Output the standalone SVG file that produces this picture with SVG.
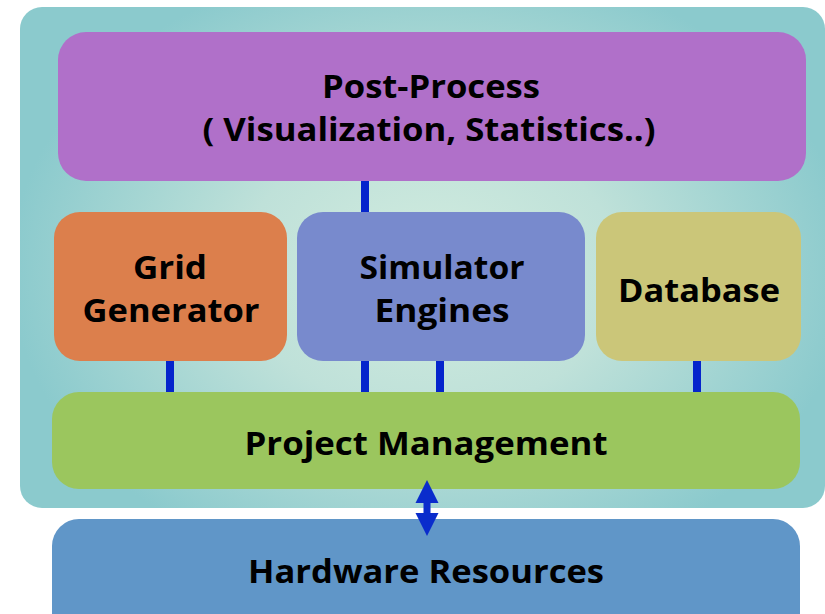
<svg xmlns="http://www.w3.org/2000/svg" width="825" height="614" viewBox="0 0 825 614">
<defs>
<radialGradient id="bg" cx="430" cy="270" r="420" gradientUnits="userSpaceOnUse" gradientTransform="translate(430 270) scale(1 0.75) translate(-430 -270)">
<stop offset="0" stop-color="#d2ecdf"/>
<stop offset="0.45" stop-color="#bfe1d9"/>
<stop offset="1" stop-color="#8bcacd"/>
</radialGradient>
<style>
.t{font-family:"Open Sans","Liberation Sans",sans-serif;font-weight:bold;font-size:31.5px;fill:#000;text-anchor:middle}
.bar{stroke:#0524cc;stroke-width:8;fill:none}
</style>
</defs>
<rect x="20" y="7" width="805" height="501" rx="22" fill="url(#bg)"/>
<g id="connectors">
<line class="bar" x1="365" y1="178" x2="365" y2="215"/>
<line class="bar" x1="170" y1="358" x2="170" y2="395"/>
<line class="bar" x1="365" y1="358" x2="365" y2="395"/>
<line class="bar" x1="440" y1="358" x2="440" y2="395"/>
<line class="bar" x1="697" y1="358" x2="697" y2="395"/>
</g>
<g id="post-process">
<rect x="58" y="32" width="748" height="149" rx="28" fill="#b070c9"/>
<text class="t" x="431" y="98" textLength="218" lengthAdjust="spacingAndGlyphs">Post-Process</text>
<text class="t" x="429" y="141" textLength="453" lengthAdjust="spacingAndGlyphs">( Visualization, Statistics..)</text>
</g>
<g id="grid-generator">
<rect x="54" y="212" width="233" height="149" rx="26" fill="#dc7f4c"/>
<text class="t" x="170" y="279" textLength="74" lengthAdjust="spacingAndGlyphs">Grid</text>
<text class="t" x="171" y="322" textLength="177" lengthAdjust="spacingAndGlyphs">Generator</text>
</g>
<g id="simulator-engines">
<rect x="297" y="212" width="288" height="149" rx="26" fill="#788acd"/>
<text class="t" x="442" y="279" textLength="165" lengthAdjust="spacingAndGlyphs">Simulator</text>
<text class="t" x="442" y="322" textLength="135" lengthAdjust="spacingAndGlyphs">Engines</text>
</g>
<g id="database">
<rect x="596" y="212" width="205" height="149" rx="26" fill="#cbc679"/>
<text class="t" x="699" y="302" textLength="162" lengthAdjust="spacingAndGlyphs">Database</text>
</g>
<g id="project-management">
<rect x="52" y="392" width="748" height="97" rx="27" fill="#9bc65e"/>
<text class="t" x="426" y="455" textLength="363" lengthAdjust="spacingAndGlyphs">Project Management</text>
</g>
<g id="hardware-resources">
<rect x="52" y="519" width="748" height="130" rx="27" fill="#6096c8"/>
<text class="t" x="426" y="583" textLength="356" lengthAdjust="spacingAndGlyphs">Hardware Resources</text>
</g>
<g id="arrow">
<path d="M427,480 L438.5,503 L430.5,503 L430.5,513 L438.5,513 L427,536 L415.5,513 L423.5,513 L423.5,503 L415.5,503 Z" fill="#0a2ccc"/>
</g>
</svg>
